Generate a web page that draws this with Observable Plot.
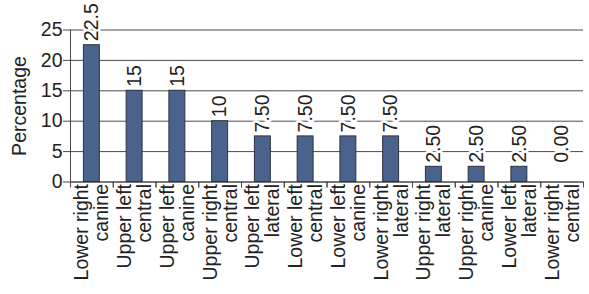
<!DOCTYPE html>
<html>
<head>
<meta charset="utf-8">
<script src="https://cdn.jsdelivr.net/npm/d3@7"></script>
<script src="https://cdn.jsdelivr.net/npm/@observablehq/plot@0.6"></script>
<style>
  body { margin: 0; background: #fff; }
  svg { font-family: "Liberation Sans", Arial, sans-serif; }
</style>
</head>
<body>
<div id="chart"></div>
<script>
const categories = [
  "Lower right canine", "Upper left central", "Upper left canine", "Upper right central",
  "Upper left lateral", "Lower left central", "Lower left canine", "Lower right lateral",
  "Upper right lateral", "Upper right canine", "Lower left lateral", "Lower right central"
];
const values = [22.5, 15, 15, 10, 7.5, 7.5, 7.5, 7.5, 2.5, 2.5, 2.5, 0];
const valueLabels = ["22.5", "15", "15", "10", "7.50", "7.50", "7.50", "7.50", "2.50", "2.50", "2.50", "0.00"];
const yTicks = [0, 5, 10, 15, 20, 25];

const data = categories.map((c, i) => ({category: c, value: values[i], label: valueLabels[i]}));

const W = 589, H = 294, mL = 70, mR = 6;
const FS = 19.5;
const step = (W - mL - mR) / categories.length;
const twoLines = s => { const k = s.lastIndexOf(" "); return s.slice(0, k) + "\n" + s.slice(k + 1); };

const chart = Plot.plot({
  width: W,
  height: H,
  marginLeft: mL,
  marginRight: mR,
  marginTop: 29.5,
  marginBottom: 112.5,
  style: {fontSize: FS + "px", fontFamily: "Liberation Sans, Arial, sans-serif", color: "#222"},
  x: {domain: categories, padding: 0, round: false},
  y: {domain: [0, 25]},
  marks: [
    Plot.gridY(yTicks, {stroke: "#4a4a4a", strokeOpacity: 1, strokeWidth: 1}),
    Plot.frame({anchor: "left", stroke: "#4a4a4a"}),
    Plot.ruleY([0], {stroke: "#4a4a4a"}),
    Plot.axisY(yTicks, {
      tickSize: 7, tickPadding: 1, stroke: "#4a4a4a", fontSize: FS,
      label: "Percentage", labelAnchor: "center", labelArrow: "none", labelOffset: 58
    }),
    Plot.axisX({tickSize: 0, tickPadding: 2, tickRotate: -90, fontSize: FS, lineHeight: 1.03,
      tickFormat: twoLines, label: null, textAnchor: "end"}),
    Plot.axisX({tickSize: 6, tickFormat: null, dx: -step / 2, stroke: "#4a4a4a", label: null}),
    Plot.axisX({tickSize: 6, tickFormat: null, dx: step / 2, stroke: "#4a4a4a", label: null}),
    Plot.barY(data, {x: "category", y: "value", fill: "#49638c", stroke: "#2f3340", strokeWidth: 1,
      insetLeft: 13.4, insetRight: 13.4}),
    Plot.text(data, {x: "category", y: d => Math.max(d.value, 2.5), text: "label", rotate: -90,
      textAnchor: "start", dy: -4, fontSize: FS, fill: "#222", stroke: "white", strokeWidth: 5})
  ]
});
document.getElementById("chart").append(chart);
</script>
</body>
</html>
